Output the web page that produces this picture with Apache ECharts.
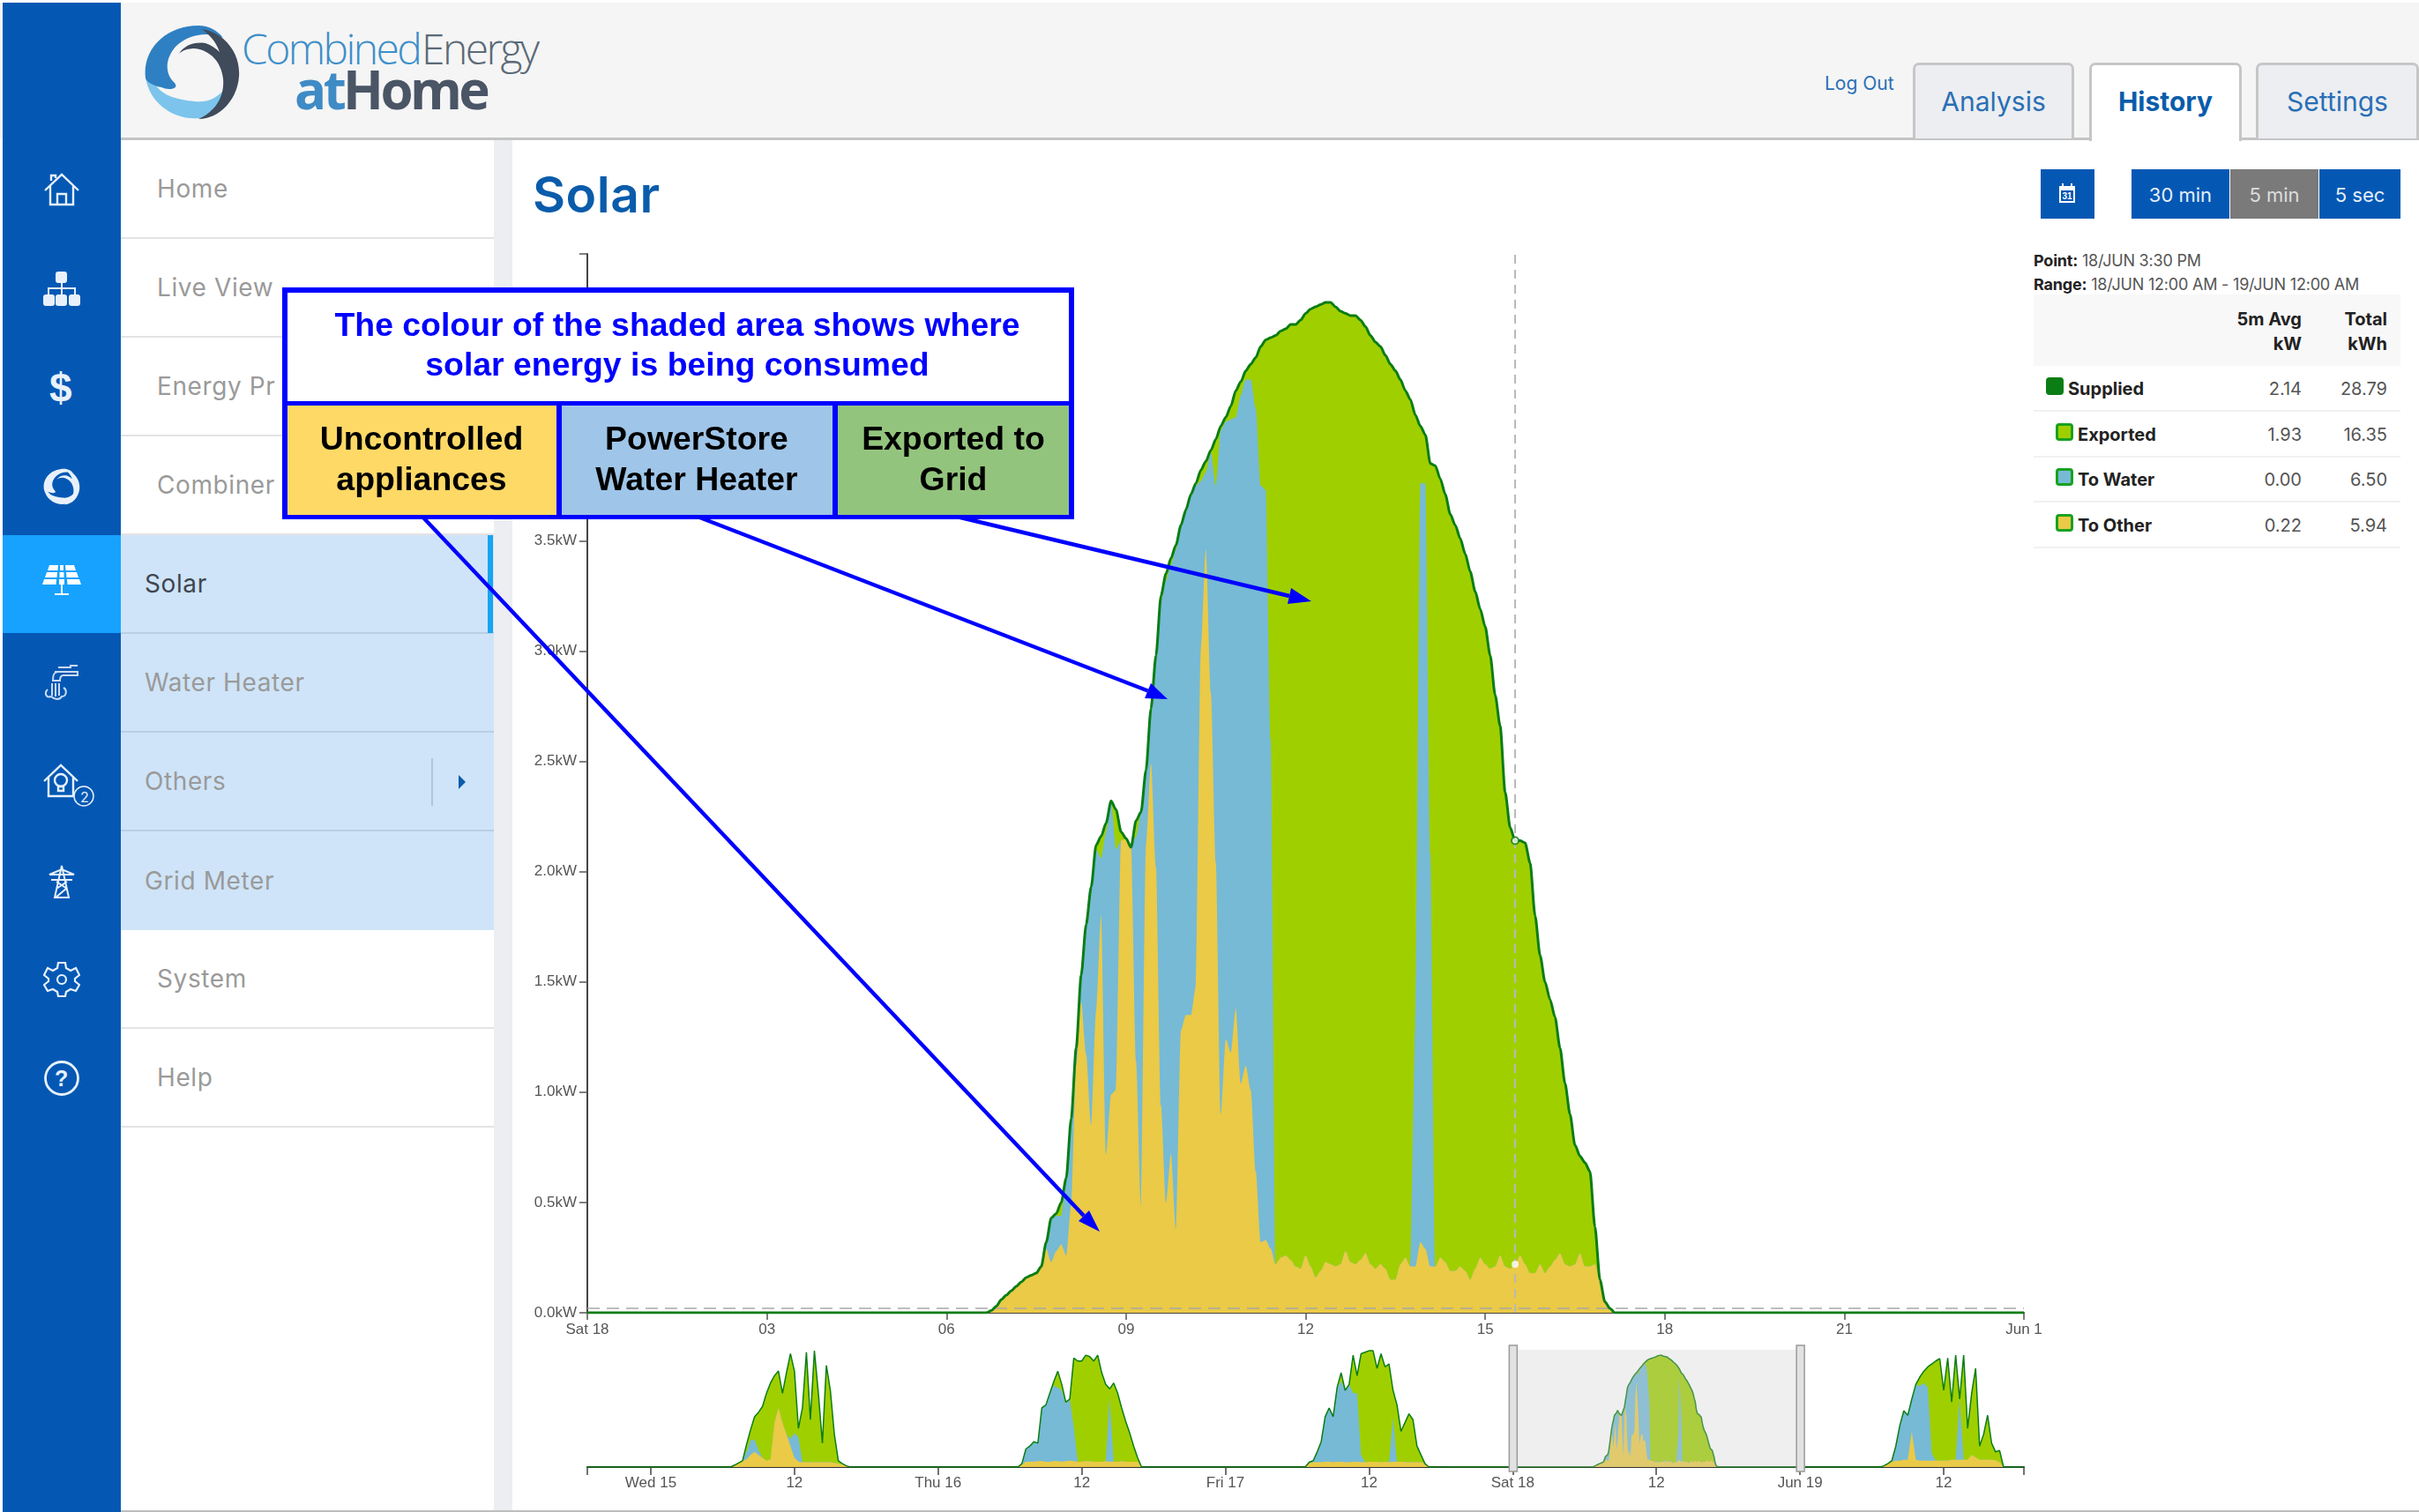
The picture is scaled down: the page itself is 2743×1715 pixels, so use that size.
<!DOCTYPE html>
<html>
<head>
<meta charset="utf-8">
<title>Solar</title>
<script src="https://cdn.jsdelivr.net/npm/echarts@6/dist/echarts.min.js"></script>
<style>
  html, body { margin: 0; padding: 0; background: #fff; overflow: hidden; }
  body { width: 2743px; height: 1715px; position: relative; font-family: Inter, 'Open Sans', sans-serif; }
  .abs { position: absolute; }
  .txt { position: absolute; white-space: nowrap; transform: translateY(-50%); }
  .menu-row { position: absolute; left: 137px; width: 423px; height: 110px; box-sizing: content-box; border-bottom: 2px solid #e3e3e3; }
  .menu-row.blue { background: #cfe4f8; border-bottom-color: #b9cfe2; }
  .menu-row span { position: absolute; top: 50%; transform: translateY(-50%); font-size: 28px; color: #9a9a9a; letter-spacing: .6px; }
  .tab { position: absolute; top: 71px; height: 86px; box-sizing: border-box; background: #eceef1; border: 3px solid #c6c6c6; border-bottom: 0; border-radius: 7px 7px 0 0; text-align: center; line-height: 82px; font-size: 30px; color: #2a6fb5; }
  .tab.on { background: #fff; height: 89px; font-weight: 700; color: #0a5cab; z-index: 2; }
  .btn { position: absolute; top: 192px; height: 56px; background: #0458b4; color: #e6eef8; text-align: center; line-height: 58px; font-size: 22px; }
  .row { position: absolute; left: 2306px; width: 416px; border-bottom: 2px solid #f1f1f1; }
  .cell { position: absolute; white-space: nowrap; font-size: 20px; color: #555; transform: translateY(-50%); }
  .cell.b { font-weight: 700; color: #222; }
  #chart { position: absolute; left: 0; top: 0; width: 2743px; height: 1715px; z-index: 5; }
</style>
</head>
<body>
<div class="abs" style="left:0;top:3px;width:2743px;height:154px;background:#f5f5f5"></div>
<div class="abs" style="left:137px;top:156px;width:2606px;height:3px;background:#c4c4c4"></div>
<div class="abs" style="left:3px;top:3px;width:134px;height:1712px;background:#0458b4"></div>
<div class="abs" style="left:3px;top:607px;width:134px;height:111px;background:#17a2ff"></div>
<div class="abs" style="left:560px;top:159px;width:21px;height:1556px;background:#eceef2"></div>
<div class="abs" style="left:137px;top:1713px;width:2606px;height:2px;background:#bdbdbd"></div>

<!-- logo -->
<svg class="abs" style="left:163px;top:27px" width="110" height="110" viewBox="0 0 110 110">
  <path fill="#7cc4ec" d="M2 60 C6 90 34 110 64 107 C84 105 98 88 96 66 C90 80 76 90 58 88 C38 86 22 82 14 70 Z"/>
  <path fill="#2f80c2" d="M2 62 C-2 28 26 2 62 2 C74 2 84 8 90 16 C72 8 50 12 36 26 C24 40 24 56 34 66 C42 74 28 76 20 72 C10 70 4 66 2 62Z"/>
  <path fill="#3f4a5a" d="M66 6 C92 10 110 34 108 60 C106 86 86 108 62 108 C80 100 92 84 90 62 C88 44 76 30 58 28 C50 28 44 30 40 34 C46 24 58 20 70 22 C76 24 82 28 86 32 C82 20 74 12 66 6Z"/>
</svg>
<div class="txt" style="left:274px;top:54px;font:300 48px 'Open Sans';letter-spacing:-2.6px;color:#3d8fc9">Combined <span style="color:#5b6a77;margin-left:-8px">Energy</span></div>
<div class="txt" style="left:334px;top:101px;font:700 60px 'Open Sans';letter-spacing:-3.6px;color:#4a5566"><span style="color:#3f8bc6">at</span>Home</div>

<!-- side icons -->
<svg class="abs" style="left:48px;top:193px" width="44" height="44" viewBox="0 0 44 44" fill="none" stroke="#e8f1fb" stroke-width="2.4"><path d="M3 23 L22 5 L41 23 M9 18 V39 H35 V18 M17 39 V27 H27 V39 M10 12 V6 H15 V9"/></svg>
<svg class="abs" style="left:48px;top:306px" width="44" height="44" viewBox="0 0 44 44" fill="#e8f1fb" stroke="#e8f1fb" stroke-width="2"><rect x="16" y="3" width="11" height="11" rx="2"/><rect x="2" y="29" width="11" height="11" rx="2"/><rect x="16" y="29" width="11" height="11" rx="2"/><rect x="31" y="29" width="11" height="11" rx="2"/><path fill="none" d="M22 14 V29 M7 29 V21 H37 V29"/></svg>
<div class="txt" style="left:56px;top:440px;font:700 46px 'Liberation Sans';color:#e8f1fb">$</div>
<svg class="abs" style="left:49px;top:531px" width="42" height="42" viewBox="0 0 110 110" fill="#e8f1fb">
  <path d="M2 60 C6 90 34 110 64 107 C84 105 98 88 96 66 C90 80 76 90 58 88 C38 86 22 82 14 70 Z"/>
  <path d="M2 62 C-2 28 26 2 62 2 C74 2 84 8 90 16 C72 8 50 12 36 26 C24 40 24 56 34 66 C42 74 28 76 20 72 C10 70 4 66 2 62Z"/>
  <path d="M66 6 C92 10 110 34 108 60 C106 86 86 108 62 108 C80 100 92 84 90 62 C88 44 76 30 58 28 C50 28 44 30 40 34 C46 24 58 20 70 22 C76 24 82 28 86 32 C82 20 74 12 66 6Z"/>
</svg>
<svg class="abs" style="left:48px;top:640px" width="44" height="36" viewBox="0 0 44 36" fill="#fff"><path d="M8 1 H18 L17.500 7 H6 Z M20 1 H24 V7 H20 Z M26 1 H36 L38 7 H26.500 Z M5 9 H17 L16.500 15 H3 Z M19.500 9 H24.500 V15 H19.500 Z M27 9 H39 L41 15 H27.500 Z M2 17 H16 L15.500 23 H0 Z M19 17 H25 V23 H19 Z M28 17 H42 L44 23 H28.500 Z"/><path d="M21 23 H23 V33 H30 V35 H14 V33 H21 Z"/></svg>
<svg class="abs" style="left:48px;top:752px" width="44" height="44" viewBox="0 0 44 44" fill="none" stroke="#c8daf0" stroke-width="2"><path d="M18 5 H32 V3 H40 M14 10 H40 V14 H24 C20 14 20 18 20 20 H12 C12 12 14 10 18 10 M6 30 C2 34 4 40 10 38 C14 42 20 42 22 38 C28 38 28 30 24 28 M11 23 V37 M15 23 V38 M19 23 V37"/></svg>
<svg class="abs" style="left:48px;top:866px" width="64" height="56" viewBox="0 0 64 56" fill="none" stroke="#e8f1fb" stroke-width="2.400"><path d="M2 20 L21 2 L40 20 M7 16 V37 H35 V16"/><circle cx="21" cy="19" r="7"/><path d="M18 26 H24 V31 H18 Z"/><circle cx="47" cy="37" r="11" stroke-width="1.500"/></svg>
<div class="txt" style="left:91px;top:904px;font:400 16px Inter;color:#e8f1fb">2</div>
<svg class="abs" style="left:50px;top:980px" width="40" height="40" viewBox="0 0 40 40" fill="none" stroke="#e8f1fb" stroke-width="2"><path d="M20 2 L12 38 H28 Z M6 12 H34 L20 6 Z M8 18 H32 M14 28 L26 20 M26 28 L14 20 M13 38 L25 28"/></svg>
<svg class="abs" style="left:49px;top:1090px" width="42" height="42" viewBox="0 0 42 42" fill="none" stroke="#e8f1fb" stroke-width="2.200"><circle cx="21" cy="21" r="5"/><path d="M17 2 H25 L26 8 L31 11 L37 8 L41 16 L36 20 V23 L41 27 L37 34 L31 32 L26 35 L25 40 H17 L16 35 L11 32 L5 34 L1 27 L6 23 V20 L1 16 L5 8 L11 11 L16 8 Z"/></svg>
<svg class="abs" style="left:49px;top:1202px" width="42" height="42" viewBox="0 0 42 42" fill="none" stroke="#e8f1fb" stroke-width="2.800"><circle cx="21" cy="21" r="18.500"/></svg>
<div class="txt" style="left:62px;top:1223px;font:700 25px 'Liberation Sans';color:#e8f1fb">?</div>

<div id="menu"></div>
<div class="abs" style="left:553px;top:607px;width:6px;height:111px;background:#1aa3f0"></div>
<div class="abs" style="left:489px;top:860px;width:2px;height:54px;background:#b3c4d4"></div>
<svg class="abs" style="left:519px;top:877px" width="10" height="20" viewBox="0 0 10 20"><path d="M1 2 L9 10 L1 18 Z" fill="#0a5cab"/></svg>

<div class="txt" style="left:604px;top:220px;font:600 57px Inter;letter-spacing:.5px;color:#0a5cab">Solar</div>

<div class="txt" style="left:2069px;top:94px;font:400 21px Inter;color:#2a6fb5">Log Out</div>
<div class="tab" style="left:2169px;width:183px">Analysis</div>
<div class="tab on" style="left:2369px;width:173px">History</div>
<div class="tab" style="left:2558px;width:185px">Settings</div>

<div class="btn" style="left:2314px;width:61px"></div>
<svg class="abs" style="left:2334px;top:207px" width="20" height="24" viewBox="0 0 20 24"><path fill="#fff" d="M1 4 H4 V1 H6 V4 H14 V1 H16 V4 H19 V23 H1 Z"/><path fill="#0458b4" d="M3 9 H17 V21 H3 Z"/><text x="10" y="19" font-size="10" font-weight="700" text-anchor="middle" fill="#fff" font-family="Liberation Sans">31</text></svg>
<div class="btn" style="left:2417px;width:111px">30 min</div>
<div class="btn" style="left:2529px;width:100px;background:#7a7a7a;color:#ddd">5 min</div>
<div class="btn" style="left:2630px;width:92px">5 sec</div>

<div class="txt" style="left:2306px;top:295px;font-size:18px;letter-spacing:-.2px;color:#555"><b style="color:#222">Point:</b> 18/JUN 3:30 PM</div>
<div class="txt" style="left:2306px;top:322px;font-size:18px;letter-spacing:-.2px;color:#555"><b style="color:#222">Range:</b> 18/JUN 12:00 AM - 19/JUN 12:00 AM</div>
<div id="table"></div>

<div id="chart"></div>

<script>
// minutes since midnight of the first reading, one reading every 5 minutes
const firstMinute = 405
const stepMinutes = 5

// kW, Sat 18 Jun
const supplied = [
  0.01, 0.03, 0.06, 0.08, 0.10, 0.12, 0.14, 0.16, 0.17, 0.18, 0.21,
  0.32, 0.43, 0.45, 0.50, 0.61, 0.88, 1.20, 1.53, 1.76, 1.93,
  2.12, 2.16, 2.22, 2.32, 2.28, 2.18, 2.15, 2.11, 2.23, 2.27,
  2.46, 2.74, 2.98, 3.25, 3.35, 3.42, 3.48, 3.57, 3.64, 3.71,
  3.76, 3.82, 3.86, 3.91, 3.96, 4.02, 4.06, 4.11, 4.18, 4.22,
  4.27, 4.30, 4.33, 4.38, 4.41, 4.42, 4.43, 4.45, 4.46, 4.48,
  4.48, 4.50, 4.53, 4.55, 4.56, 4.57, 4.58, 4.58, 4.56, 4.54,
  4.53, 4.52, 4.52, 4.50, 4.47, 4.43, 4.40, 4.38, 4.34, 4.30,
  4.27, 4.23, 4.18, 4.14, 4.07, 4.02, 3.98, 3.85, 3.84, 3.78,
  3.71, 3.62, 3.57, 3.51, 3.44, 3.36, 3.27, 3.19, 3.11, 2.98,
  2.80, 2.66, 2.36, 2.20, 2.14, 2.14, 2.13, 2.04, 1.80, 1.62,
  1.50, 1.42, 1.34, 1.20, 1.04, 0.90, 0.76, 0.71, 0.68, 0.64,
  0.39, 0.15, 0.05, 0.02, 0.00
]
const toOther = [
  0.01, 0.03, 0.06, 0.08, 0.10, 0.12, 0.14, 0.16, 0.17, 0.18, 0.21,
  0.29, 0.23, 0.28, 0.31, 0.26, 0.49, 1.12, 1.41, 1.17, 0.85,
  1.37, 1.80, 0.72, 0.99, 1.01, 2.14, 2.15, 2.11, 1.14, 0.48,
  2.12, 2.49, 2.02, 0.94, 0.50, 0.72, 0.38, 1.28, 1.35, 1.35,
  1.48, 3.01, 3.46, 2.81, 2.04, 0.90, 1.24, 1.18, 1.38, 1.04,
  1.12, 1.01, 0.64, 0.32, 0.33, 0.29, 0.22, 0.25, 0.26, 0.24,
  0.21, 0.20, 0.26, 0.21, 0.16, 0.19, 0.23, 0.22, 0.21, 0.22,
  0.28, 0.23, 0.22, 0.24, 0.27, 0.22, 0.20, 0.22, 0.20, 0.15,
  0.15, 0.22, 0.25, 0.21, 0.21, 0.32, 0.29, 0.21, 0.21, 0.25,
  0.23, 0.19, 0.19, 0.21, 0.19, 0.15, 0.20, 0.25, 0.22, 0.20,
  0.21, 0.26, 0.21, 0.20, 0.22, 0.26, 0.22, 0.18, 0.18, 0.22,
  0.18, 0.21, 0.24, 0.27, 0.22, 0.21, 0.22, 0.27, 0.21, 0.21,
  0.22, 0.15, 0.05, 0.02, 0.00
]
const toWater = [
  0, 0, 0, 0, 0, 0, 0, 0, 0, 0, 0,
  0.03, 0.20, 0.16, 0.13, 0.35, 0.39, 0.08, 0.12, 0.59, 1.08,
  0.73, 0.26, 1.46, 1.33, 1.09, 0, 0, 0, 1.02, 1.78,
  0.33, 0.23, 0.94, 2.28, 2.82, 2.67, 3.08, 2.28, 2.28, 2.35,
  2.27, 0.76, 0.35, 1.09, 1.71, 3.10, 2.80, 2.87, 2.68, 3.12,
  3.11, 3.22, 3.46, 3.43, 3.40, 2.31, 0, 0, 0, 0,
  0, 0, 0, 0, 0, 0, 0, 0, 0, 0,
  0, 0, 0, 0, 0, 0, 0, 0, 0, 0,
  0, 0, 0, 0, 1.10, 3.44, 3.47, 1.87, 0, 0,
  0, 0, 0, 0, 0, 0, 0, 0, 0, 0,
  0, 0, 0, 0, 0, 0, 0, 0, 0, 0,
  0, 0, 0, 0, 0, 0, 0, 0, 0, 0,
  0, 0, 0, 0, 0
]

// overview, one reading every 20 minutes from 06:40 to 17:00
const wedSupplied = [0, 0.08, 0.17, 0.26, 0.92, 1.52, 2.06, 2.24, 2.48, 3.02, 3.44, 3.74, 3.93, 3.02, 3.86, 4.64, 3.93, 1.58, 2.42, 4.70, 1.94, 4.76, 3.02, 0.98, 4.16, 3.14, 1.34, 0.26, 0.14, 0.05, 0, 0]
const wedOther = [0, 0.08, 0.17, 0.26, 0.32, 0.50, 0.62, 0.50, 0.38, 0.26, 0.32, 1.82, 2.42, 1.82, 1.34, 0.86, 0.38, 0.23, 0.20, 0.20, 0.20, 0.20, 0.20, 0.20, 0.20, 0.20, 0.17, 0.14, 0.11, 0.05, 0, 0]
const wedWater = [0, 0, 0, 0, 0.30, 0.60, 0.50, 0.20, 0, 0, 0, 0, 0, 0, 0, 0.30, 1.00, 1.00, 0, 0, 0, 0, 0, 0, 0, 0, 0, 0, 0, 0, 0, 0]
const thuSupplied = [0, 0.14, 0.74, 0.86, 1.04, 0.98, 2.42, 2.54, 3.02, 3.50, 3.92, 3.38, 2.66, 2.78, 4.46, 4.34, 4.34, 4.58, 4.52, 4.34, 4.58, 3.86, 3.38, 3.20, 3.44, 3.02, 2.42, 1.88, 1.40, 0.86, 0.38, 0]
const thuOther = [0, 0.10, 0.22, 0.22, 0.22, 0.24, 0.24, 0.22, 0.22, 0.24, 0.24, 0.22, 0.24, 0.26, 0.24, 0.22, 0.22, 0.24, 0.24, 0.22, 0.22, 0.22, 0.24, 0.22, 0.22, 0.22, 0.24, 0.22, 0.22, 0.22, 0.22, 0]
const thuWater = [0, 0.04, 0.52, 0.64, 0.82, 0.74, 2.18, 2.32, 2.80, 3.10, 3.02, 2.90, 2.36, 2.52, 1.40, 0, 0, 0, 0, 0, 0, 0, 0, 2.60, 0, 0, 0, 0, 0, 0, 0, 0]
const friSupplied = [0, 0.20, 0.26, 0.62, 1.04, 2.06, 2.42, 2.06, 3.26, 3.86, 3.14, 3.38, 4.58, 3.74, 4.64, 4.70, 4.76, 4.76, 4.04, 4.64, 4.10, 4.22, 3.14, 2.54, 1.46, 1.82, 2.18, 1.94, 0.86, 0.50, 0.14, 0]
const friOther = [0, 0.15, 0.20, 0.20, 0.20, 0.22, 0.22, 0.20, 0.22, 0.22, 0.20, 0.20, 0.22, 0.22, 0.20, 0.20, 0.22, 0.22, 0.22, 0.20, 0.22, 0.20, 0.22, 0.22, 0.22, 0.20, 0.20, 0.20, 0.20, 0.20, 0.14, 0]
const friWater = [0, 0, 0.06, 0.42, 0.84, 1.84, 2.20, 1.86, 3.04, 3.28, 2.94, 3.18, 2.80, 2.80, 0.30, 0, 0, 0, 0, 0, 0, 0, 1.80, 0, 0, 0, 0, 0, 0, 0, 0, 0]
const sunSupplied = [0, 0.05, 0.14, 0.26, 0.86, 1.70, 2.30, 2.12, 2.78, 3.38, 3.68, 3.92, 4.10, 4.22, 4.34, 4.44, 3.14, 4.46, 2.66, 4.58, 2.78, 4.58, 1.58, 3.02, 4.04, 0.86, 1.34, 2.12, 0.98, 0.62, 0.68, 0]
const sunOther = [0, 0.05, 0.14, 0.22, 0.26, 0.26, 0.30, 0.30, 1.46, 0.30, 0.26, 0.26, 0.26, 0.26, 0.26, 0.26, 0.26, 0.26, 0.30, 0.30, 0.30, 0.30, 0.30, 0.50, 0.40, 0.30, 0.30, 0.30, 0.30, 0.28, 0.20, 0]
const sunWater = [0, 0, 0, 0.04, 0.60, 1.44, 2.00, 1.82, 1.32, 3.08, 3.06, 3.18, 3.00, 0.30, 0, 0, 0, 0, 0, 0, 2.48, 0, 0, 0, 0, 0, 0, 0, 0, 0, 0, 0]

// axes
const yMax = 4.8
const mainTickLabels = ['Sat 18', '03', '06', '09', '12', '15', '18', '21', 'Jun 1']
const overviewHours = [0, 12, 24, 36, 48, 60, 72, 84, 96, 108]
const overviewLabels = ['Wed 15', '12', 'Thu 16', '12', 'Fri 17', '12', 'Sat 18', '12', 'Jun 19', '12']
const overviewStart = -5.3
const overviewEnd = 114.7
const selectedHours = [72, 96]

// readout at the crosshair
const pointMinute = 930
const pointSupplied = 2.14
const pointOther = 0.22
const gridFloor = 0.02

// readout table
const tableNames = ['Supplied', 'Exported', 'To Water', 'To Other']
const tableAvg = ['2.14', '1.93', '0.00', '0.22']
const tableTotal = ['28.79', '16.35', '6.50', '5.94']
const tableColors = ['#0a7d14', '#a0cf00', '#76bad6', '#eaca46']

// side menu
const menuItems = ['Home', 'Live View', 'Energy Pr', 'Combiner', 'Solar', 'Water Heater', 'Others', 'Grid Meter', 'System', 'Help']

const GREEN = '#a0cf00'
const BLUE = '#76bad6'
const YELLOW = '#eaca46'
const LINE = '#0a7d14'
const AXIS_FONT = "'Liberation Sans Narrow', 'Liberation Sans', sans-serif"

// page furniture
let menuHtml = ''
menuItems.forEach((name, i) => {
  const blue = i >= 4 && i <= 7
  const color = name === 'Solar' ? '#3f4650' : '#9a9a9a'
  const left = blue ? 27 : 41
  const border = i === 7 ? 'border-bottom:0;height:112px;' : ''
  menuHtml += `<div class="menu-row${blue ? ' blue' : ''}" style="top:${159 + i * 112}px;${border}"><span style="left:${left}px;color:${color}">${name}</span></div>`
})
document.getElementById('menu').innerHTML = menuHtml

let tableHtml = '<div class="row" style="top:334px;height:81px;background:#f8f8f8;border:0"></div>'
tableHtml += '<div class="cell b" style="right:133px;top:362px">5m Avg</div><div class="cell b" style="right:133px;top:390px">kW</div>'
tableHtml += '<div class="cell b" style="right:36px;top:362px">Total</div><div class="cell b" style="right:36px;top:390px">kWh</div>'
tableNames.forEach((name, i) => {
  const mid = 441 + i * 51.7
  const top = 415 + i * 51.7
  const off = i === 0 ? 0 : 11
  const border = i === 0 ? tableColors[0] : '#17a21f'
  tableHtml += `<div class="row" style="top:${top}px;height:50px"></div>`
  tableHtml += `<div class="abs" style="left:${2320 + off}px;top:${mid - 13}px;width:20px;height:20px;box-sizing:border-box;border:3px solid ${border};border-radius:4px;background:${tableColors[i]}"></div>`
  tableHtml += `<div class="cell b" style="left:${2345 + off}px;top:${mid}px">${name}</div>`
  tableHtml += `<div class="cell" style="right:133px;top:${mid}px">${tableAvg[i]}</div>`
  tableHtml += `<div class="cell" style="right:36px;top:${mid}px">${tableTotal[i]}</div>`
})
document.getElementById('table').innerHTML = tableHtml

// data for the series. Both x axes are value axes, so the three layers are
// drawn as running totals from zero, largest first
const minutes = supplied.map((_, i) => firstMinute + i * stepMinutes)
const upToWater = supplied.map((_, i) => +(toOther[i] + toWater[i]).toFixed(2))

function mainSeriesData(values) {
  const points = values.map((v, i) => [minutes[i], v])
  return [[0, 0], [firstMinute - stepMinutes, 0]].concat(points, [[minutes[minutes.length - 1] + stepMinutes, 0], [1440, 0]])
}

// one day of 20 minute readings, hours counted from Wed 15 midnight
function dayPoints(values, dayHour) {
  return values.map((v, i) => [dayHour + 6 + 2 / 3 + i / 3, v])
}
function satPoints(values) {
  return values.map((v, i) => [72 + minutes[i] / 60, v])
}
function addUp(a, b) {
  return a.map((v, i) => +(v + b[i]).toFixed(2))
}
function overviewData(wed, thu, fri, sat, sun) {
  return [[overviewStart, 0]].concat(
    dayPoints(wed, 0), dayPoints(thu, 24), dayPoints(fri, 48), satPoints(sat), dayPoints(sun, 96),
    [[overviewEnd, 0]]
  )
}

const overviewOther = overviewData(wedOther, thuOther, friOther, toOther, sunOther)
const overviewUpToWater = overviewData(addUp(wedOther, wedWater), addUp(thuOther, thuWater), addUp(friOther, friWater), upToWater, addUp(sunOther, sunWater))
const overviewSupplied = overviewData(wedSupplied, thuSupplied, friSupplied, supplied, sunSupplied)

function areaSeries(name, data, color, xi, smooth) {
  return {
    name, type: 'line', xAxisIndex: xi, yAxisIndex: xi, data,
    smooth, smoothMonotone: 'x', symbol: 'none', animation: false,
    lineStyle: { width: 0 }, areaStyle: { color, opacity: 1, origin: 'start' }, itemStyle: { color }
  }
}

// the callout that sits over the page
const NOTE_BLUE = '#0000ff'
const NOTE_FONT = "'Liberation Sans', Arial, sans-serif"
function box(x, y, width, height, fill, z) {
  return { type: 'rect', z, shape: { x, y, width, height }, style: { fill } }
}
function note(text, x, y, fill) {
  return { type: 'text', z: 120, style: { text, x, y, fill, fontFamily: NOTE_FONT, fontSize: 37.4, fontWeight: 'bold', align: 'center', verticalAlign: 'middle' } }
}
function arrow(x1, y1, x2, y2, bx1, by1, bx2, by2) {
  return [
    { type: 'line', z: 100, shape: { x1, y1, x2: (bx1 + bx2) / 2, y2: (by1 + by2) / 2 }, style: { stroke: NOTE_BLUE, lineWidth: 4.5 } },
    { type: 'polygon', z: 100, shape: { points: [[x2, y2], [bx1, by1], [bx2, by2]] }, style: { fill: NOTE_BLUE } }
  ]
}
const callout = [
  box(320, 326, 898, 263, NOTE_BLUE, 110),
  box(326, 332, 886, 123, '#ffffff', 111),
  box(326, 460, 305, 124, '#ffd966', 111),
  box(637, 460, 307, 124, '#9fc5e8', 111),
  box(950, 460, 262, 124, '#93c47d', 111),
  note('The colour of the shaded area shows where', 768, 371, NOTE_BLUE),
  note('solar energy is being consumed', 768, 416, NOTE_BLUE),
  note('Uncontrolled', 478, 500, '#000'),
  note('appliances', 478, 546, '#000'),
  note('PowerStore', 790, 500, '#000'),
  note('Water Heater', 790, 546, '#000'),
  note('Exported to', 1081, 500, '#000'),
  note('Grid', 1081, 546, '#000')
].concat(
  arrow(479, 586, 1247, 1397, 1223, 1385, 1235, 1373),
  arrow(791, 586, 1324, 793, 1298, 792, 1305, 775),
  arrow(1085, 586, 1487, 682, 1460, 685, 1464, 667)
)

const chart = echarts.init(document.getElementById('chart'), null, { width: 2743, height: 1715 })
chart.setOption({
  backgroundColor: 'transparent',
  animation: false,
  grid: [
    { left: 666, top: 288, width: 1629, height: 1201 },
    { left: 666, top: 1531, width: 1629, height: 133 }
  ],
  xAxis: [
    {
      type: 'value', gridIndex: 0, min: 0, max: 1440, interval: 180,
      splitLine: { show: false },
      axisLine: { lineStyle: { color: '#444', width: 2 } },
      axisTick: { length: 8, lineStyle: { color: '#555', width: 1.5 } },
      axisLabel: {
        margin: 11, color: '#555', fontFamily: AXIS_FONT, fontSize: 17,
        hideOverlap: false, showMinLabel: true, showMaxLabel: true,
        formatter: v => mainTickLabels[v / 180]
      }
    },
    {
      type: 'value', gridIndex: 1, min: overviewStart, max: overviewEnd,
      splitLine: { show: false },
      axisLine: { lineStyle: { color: '#333', width: 2 } },
      axisTick: { length: 9, lineStyle: { color: '#444', width: 1.5 }, customValues: [overviewStart].concat(overviewHours, [overviewEnd]) },
      axisLabel: {
        margin: 10, color: '#555', fontFamily: AXIS_FONT, fontSize: 17,
        customValues: overviewHours,
        formatter: v => overviewLabels[overviewHours.indexOf(v)]
      }
    }
  ],
  yAxis: [
    {
      type: 'value', gridIndex: 0, min: 0, max: yMax, interval: 0.5,
      splitLine: { show: false },
      axisLine: { show: true, lineStyle: { color: '#444', width: 2 } },
      axisTick: { show: true, length: 9, lineStyle: { color: '#555', width: 1.5 } },
      axisLabel: {
        margin: 12, color: '#555', fontFamily: AXIS_FONT, fontSize: 17,
        formatter: v => (v <= 4.5 ? v.toFixed(1) + 'kW' : '')
      }
    },
    { type: 'value', gridIndex: 1, min: 0, max: yMax, show: false }
  ],
  series: [
    areaSeries('Exported', mainSeriesData(supplied), GREEN, 0, 0.25),
    areaSeries('To Water', mainSeriesData(upToWater), BLUE, 0, 0.25),
    areaSeries('To Other', mainSeriesData(toOther), YELLOW, 0, 0.25),
    {
      name: 'floor', type: 'line', xAxisIndex: 0, yAxisIndex: 0, symbol: 'none', z: 3,
      data: [[0, gridFloor], [1440, gridFloor]],
      lineStyle: { color: '#a8a8a8', width: 1.5, type: [14, 8] }
    },
    {
      name: 'crosshair', type: 'line', xAxisIndex: 0, yAxisIndex: 0, symbol: 'none', z: 3,
      data: [[pointMinute, 0], [pointMinute, yMax]],
      lineStyle: { color: '#b8b8b8', width: 2, type: [10, 7] }
    },
    {
      name: 'Supplied', type: 'line', xAxisIndex: 0, yAxisIndex: 0, symbol: 'none', z: 4,
      data: mainSeriesData(supplied), smooth: 0.25, smoothMonotone: 'x',
      lineStyle: { color: LINE, width: 3 }
    },
    {
      name: 'point', type: 'scatter', xAxisIndex: 0, yAxisIndex: 0, z: 5, symbolSize: 8,
      data: [
        { value: [pointMinute, pointSupplied], itemStyle: { color: '#fff', borderColor: LINE, borderWidth: 2 } },
        { value: [pointMinute, pointOther], itemStyle: { color: '#fff' } }
      ]
    },

    areaSeries('Exported', overviewSupplied, GREEN, 1, false),
    areaSeries('To Water', overviewUpToWater, BLUE, 1, false),
    areaSeries('To Other', overviewOther, YELLOW, 1, false),
    {
      name: 'Supplied', type: 'line', xAxisIndex: 1, yAxisIndex: 1, symbol: 'none', z: 4,
      data: overviewSupplied,
      lineStyle: { color: LINE, width: 1.5 },
      markArea: {
        silent: true,
        z: 8,
        itemStyle: { color: 'rgba(203,203,203,0.3)' },
        data: [[{ xAxis: selectedHours[0] }, { xAxis: selectedHours[1] }]]
      }
    },
    {
      name: 'handles', type: 'custom', xAxisIndex: 1, yAxisIndex: 1, z: 9,
      data: selectedHours.map(h => [h, 0]),
      encode: { x: 0, y: 1 },
      renderItem(params, api) {
        const p = api.coord([api.value(0), 0])
        return {
          type: 'rect',
          shape: { x: p[0] - 4, y: p[1] - 138, width: 9, height: 143 },
          style: { fill: '#e2e2e2', stroke: '#9a9a9a', lineWidth: 1.5 }
        }
      }
    }
  ],
  graphic: callout
})
</script>
</body>
</html>
